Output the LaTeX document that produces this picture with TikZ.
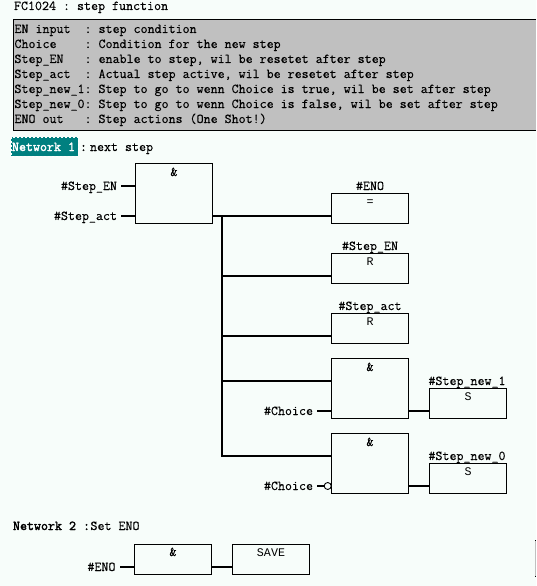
\documentclass[tikz,border=0pt]{standalone}
\usepackage{fontspec}
\setmonofont{Latin Modern Mono}[FakeBold=0.35]
\newfontfamily\boldmono{Latin Modern Mono}[FakeBold=2.2]
\newfontfamily\symmono{Liberation Mono}
\definecolor{bgc}{HTML}{F7FDFA}
\definecolor{grayc}{HTML}{C0C0C0}
\definecolor{tealc}{HTML}{008080}
\newcommand{\mainsz}{\ttfamily\fontsize{13.6}{15}\selectfont}
\newcommand{\boldsz}{\boldmono\fontsize{13.6}{15}\selectfont}
\newcommand{\symsz}{\symmono\fontsize{11.67}{14}\selectfont}
\tikzset{
  txt/.style={inner sep=0pt,outer sep=0pt,anchor=base west,font=\mainsz},
  lbl/.style={inner sep=0pt,outer sep=0pt,anchor=base east,font=\mainsz},
  ctr/.style={inner sep=0pt,outer sep=0pt,anchor=base,font=\mainsz},
  sym/.style={inner sep=0pt,outer sep=0pt,anchor=base,font=\symsz},
  box/.style={draw=black,line width=0.9pt,fill=none,inner sep=0pt,outer sep=0pt,minimum width=77.4pt,anchor=north west},
  tall/.style={box,minimum height=60pt},
  short/.style={box,minimum height=30pt},
  wire/.style={line width=2pt,draw=black},
}
\begin{document}
\begin{tikzpicture}[x=1pt,y=-1pt]
\useasboundingbox (0,0) rectangle (536,586);
\fill[bgc] (0,0) rectangle (536,586);
\fill[grayc] (13.5,19.5) rectangle (536,130.5);
\draw[line width=0.9pt] (536,19.5) -- (13.5,19.5) -- (13.5,130.5) -- (536,130.5);
\node[txt] (title) at (14,10) {FC1024 : step function};
\foreach \i/\t in {
 0/{EN input~~: step condition},
 1/{Choice~~~~: Condition for the new step},
 2/{Step\_EN~~~: enable to step, wil be resetet after step},
 3/{Step\_act~~: Actual step active, wil be resetet after step},
 4/{Step\_new\_1: Step to go to wenn Choice is true, wil be set after step},
 5/{Step\_new\_0: Step to go to wenn Choice is false, wil be set after step},
 6/{ENO out~~~: Step actions (One Shot!)}}
 {\node[txt] at (14.5,33+15*\i) {\t};}
\fill[tealc] (11,137) rectangle (78,156);
\draw[white,line width=1pt,dash pattern=on 2pt off 2pt] (11,137) rectangle (78,156);
\node[txt,text=white,font=\boldsz] (n1) at (12,151) {Network 1};
\node[txt,font=\boldsz] at (80,151) {:};
\node[txt] at (90,151) {next step};
\node[txt,font=\boldsz] (n2) at (13,530) {Network 2 :};
\node[txt] at (90.5,530) {Set ENO};
% blocks
\node[tall] (a1) at (135.4,163.4) {};
\node[ctr] at (174,176) {\&};
\node[short] (eno) at (331.4,193.4) {};
\node[sym] at (370,205) {=};
\node[ctr] at (370,190) {\#ENO};
\node[short] (sen) at (331.4,253.4) {};
\node[sym] at (370,265) {R};
\node[ctr] at (370,250) {\#Step\_EN};
\node[short] (sac) at (331.4,313.4) {};
\node[sym] at (370,325) {R};
\node[ctr] at (370,310) {\#Step\_act};
\node[tall] (a2) at (331.4,358.4) {};
\node[ctr] at (370,371) {\&};
\node[tall] (a3) at (331.4,433.4) {};
\node[ctr] at (370,446) {\&};
\node[short] (s1) at (429.4,388.4) {};
\node[sym] at (468,400) {S};
\node[ctr] at (467,385) {\#Step\_new\_1};
\node[short] (s0) at (429.4,463.4) {};
\node[sym] at (468,475) {S};
\node[ctr] at (467,460) {\#Step\_new\_0};
\node[short] (a4) at (134.4,544.4) {};
\node[ctr] at (173,556) {\&};
\node[short] (sv) at (232.4,544.4) {};
\node[sym] at (271,556) {SAVE};
% labels
\node[lbl] (lEN) at (117,190) {\#Step\_EN};
\node[lbl] (lAC) at (117,220) {\#Step\_act};
\node[lbl] (lC1) at (313,415) {\#Choice};
\node[lbl] (lC0) at (313,490) {\#Choice};
\node[lbl] (lE) at (115.5,571) {\#ENO};
% wires
\coordinate (p1) at (121,186); \coordinate (p2) at (121,216);
\coordinate (p3) at (317,411); \coordinate (p4) at (317,486);
\coordinate (p5) at (120,567);
\draw[wire] (p1) -- (p1 -| a1.west);
\draw[wire] (p2) -- (p2 -| a1.west);
\draw[wire] (a1.east |- p2) -- (p2 -| eno.west);
\draw[wire] (222,216) |- (a3.west |- 0,456);
\draw[wire] (222,276) -- (222,276 -| sen.west);
\draw[wire] (222,336) -- (222,336 -| sac.west);
\draw[wire] (222,381) -- (222,381 -| a2.west);
\draw[wire] (p3) -- (p3 -| a2.west);
\draw[wire] (a2.east |- p3) -- (p3 -| s1.west);
\draw[wire] (p4) -- (324,486);
\node[circle,draw=black,line width=0.9pt,fill=bgc,minimum size=7pt,inner sep=0pt] (neg) at (327.7,486) {};
\draw[wire] (a3.east |- p4) -- (p4 -| s0.west);
\draw[wire] (p5) -- (p5 -| a4.west);
\draw[wire] (a4.east |- p5) -- (p5 -| sv.west);
% clipped block at the right edge
\draw[grayc,line width=1pt] (535.5,540.5) -- (535.5,576.5);
\draw[black,line width=1pt] (535,540.5) -- (536,540.5) (535,576.5) -- (536,576.5);
\end{tikzpicture}
\end{document}
